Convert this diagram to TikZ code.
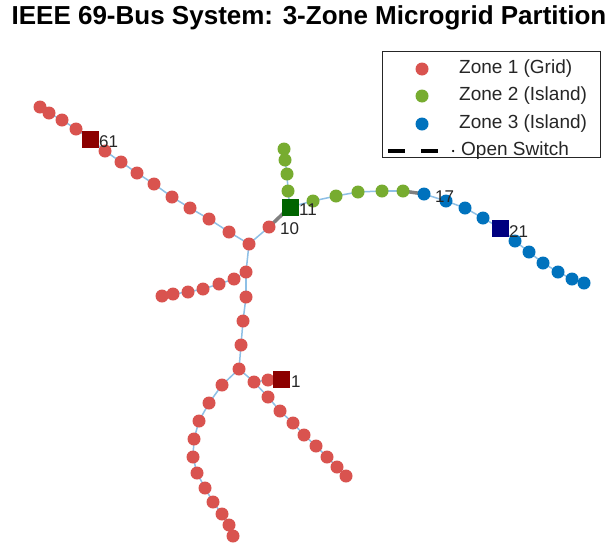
\documentclass[tikz,border=0pt]{standalone}
\usepackage{fontspec}
\setmainfont{Liberation Sans}
\definecolor{zred}{RGB}{217,83,79}
\definecolor{zgreen}{RGB}{119,172,48}
\definecolor{zblue}{RGB}{0,114,189}
\definecolor{sqred}{RGB}{140,0,0}
\definecolor{sqgreen}{RGB}{0,100,0}
\definecolor{sqblue}{RGB}{0,0,128}
\definecolor{edgeblue}{RGB}{142,192,230}
\definecolor{swgray}{RGB}{128,128,128}
\definecolor{txt}{RGB}{38,38,38}
\tikzset{
  edge/.style={draw=edgeblue,line width=1.5pt},
  openedge/.style={draw=swgray,line width=3.5pt},
  rn/.style={circle,fill=zred,inner sep=0pt,minimum size=13pt},
  gn/.style={circle,fill=zgreen,inner sep=0pt,minimum size=13pt},
  bn/.style={circle,fill=zblue,inner sep=0pt,minimum size=13pt},
  rsq/.style={rectangle,fill=sqred,inner sep=0pt,minimum size=17pt},
  gsq/.style={rectangle,fill=sqgreen,inner sep=0pt,minimum size=17pt},
  bsq/.style={rectangle,fill=sqblue,inner sep=0pt,minimum size=17pt},
  lbl/.style={anchor=west,inner sep=0pt,text=txt,font=\fontsize{17}{20}\selectfont},
  legtxt/.style={anchor=west,inner sep=0pt,text=txt,font=\fontsize{19}{22}\selectfont},
}
\begin{document}
\begin{tikzpicture}[x=1pt,y=-1pt]
\useasboundingbox (0,0) rectangle (615,544);
\fill[white] (0,0) rectangle (615,544);
% title
\node[font=\fontsize{26}{31}\selectfont\bfseries,text=black,inner sep=0pt] (title) at (309,18) {IEEE 69-Bus System: 3-Zone Microgrid Partition};
% coordinates of buses
\foreach \n/\x/\y in {
 n65/40/107,n64/49/113,n63/62/120,n62/76/129,n61/90/139,n60/105/151,n59/121/162,n58/137/173,
 n57/154/184,n56/172/197,n55/190/208,n54/209/219,n53/229/232,n9/249/244,n10/269/227,
 n8/246/272,n7/246/297,n6/243/321,n5/241/345,n4/239/369,
 a1/234/279,a2/219/284,a3/203/289,a4/188/292,a5/173/294,a6/162/296,
 b1/222/385,b2/209/403,b3/199/421,b4/194/439,b5/193/457,b6/197/473,b7/205/488,b8/213/502,
 b9/222/514,b10/229/525,b11/233/536,
 c0/254/382,c1/268/380,n1/281/379,
 d1/268/397,d2/280/411,d3/293/423,d4/304/435,d5/316/446,d6/327/457,d7/337/467,d8/346/476,
 n11/290/207,v1/288/191,v2/287/174,v3/285/160,v4/284/149,
 g12/313/201,g13/336/196,g14/358/192,g15/382/191,g16/403/191,
 n17/424/194,n18/446/201,n19/465/208,n20/483/218,n21/500/228,n22/515/241,n23/529/252,
 n24/543/263,n25/558/272,n26/572/279,n27/584/283}
 {\coordinate (p\n) at (\x,\y);}
% edges
\foreach \a/\b in {n65/n64,n64/n63,n63/n62,n62/n61,n61/n60,n60/n59,n59/n58,n58/n57,n57/n56,
 n56/n55,n55/n54,n54/n53,n53/n9,n9/n10,n9/n8,n8/n7,n7/n6,n6/n5,n5/n4,
 n8/a1,a1/a2,a2/a3,a3/a4,a4/a5,a5/a6,
 n4/b1,b1/b2,b2/b3,b3/b4,b4/b5,b5/b6,b6/b7,b7/b8,b8/b9,b9/b10,b10/b11,
 n4/c0,c0/c1,c1/n1,c0/d1,d1/d2,d2/d3,d3/d4,d4/d5,d5/d6,d6/d7,d7/d8,
 n11/v1,v1/v2,v2/v3,v3/v4,n11/g12,g12/g13,g13/g14,g14/g15,g15/g16,
 n17/n18,n18/n19,n19/n20,n20/n21,n21/n22,n22/n23,n23/n24,n24/n25,n25/n26,n26/n27}
 {\draw[edge] (p\a) -- (p\b);}
\draw[openedge] (pn10) -- (pn11);
\draw[openedge] (pg16) -- (pn17);
% red buses
\foreach \n in {n65,n64,n63,n62,n60,n59,n58,n57,n56,n55,n54,n53,n9,n10,n8,n7,n6,n5,n4,
 a1,a2,a3,a4,a5,a6,b1,b2,b3,b4,b5,b6,b7,b8,b9,b10,b11,c0,c1,d1,d2,d3,d4,d5,d6,d7,d8}
 {\node[rn] (\n) at (p\n) {};}
\foreach \n in {v1,v2,v3,v4,g12,g13,g14,g15,g16}
 {\node[gn] (\n) at (p\n) {};}
\foreach \n in {n17,n18,n19,n20,n22,n23,n24,n25,n26,n27}
 {\node[bn] (\n) at (p\n) {};}
\node[rsq] (n61) at (pn61) {};
\node[rsq] (n1) at (pn1) {};
\node[gsq] (n11) at (pn11) {};
\node[bsq] (n21) at (pn21) {};
% labels
\node[lbl] (l61) at ([xshift=9pt,yshift=-3pt]pn61) {61};
\node[lbl] (l10) at ([xshift=11pt,yshift=-2pt]pn10) {10};
\node[lbl] (l11) at ([xshift=9pt,yshift=-3pt]pn11) {11};
\node[lbl] (l17) at ([xshift=11pt,yshift=-3pt]pn17) {17};
\node[lbl] (l21) at ([xshift=9pt,yshift=-4pt]pn21) {21};
\node[lbl] (l1) at ([xshift=10pt,yshift=-3pt]pn1) {1};
% legend
\draw[draw=black!85,line width=0.8pt,fill=white] (382,51) rectangle (600,157);
\node[rn] (lg1) at (422,69) {};
\node[gn] (lg2) at (422,96) {};
\node[bn] (lg3) at (422,124) {};
\coordinate (ds1) at (388,151);
\coordinate (ds2) at (438,151);
\draw[black,line width=3.2pt,dash pattern=on 17pt off 16pt] (ds1) -- (ds2);
\node[circle,fill=black,inner sep=0pt,minimum size=2.5pt] (ldot) at (453,151) {};
\node[legtxt] (lt1) at (459,69) {Zone 1 (Grid)};
\node[legtxt] (lt2) at (459,96) {Zone 2 (Island)};
\node[legtxt] (lt3) at (459,124) {Zone 3 (Island)};
\node[legtxt] (lt4) at (461,151) {Open Switch};
\end{tikzpicture}
\end{document}
